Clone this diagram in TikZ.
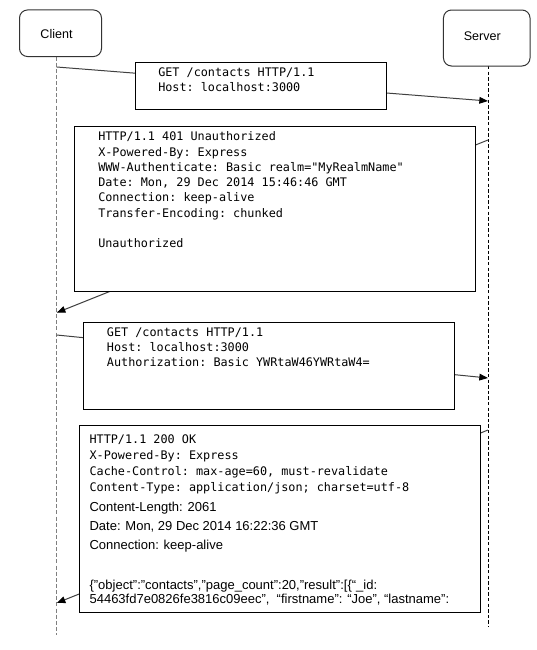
\documentclass[tikz,border=0pt]{standalone}
\usepackage{fontspec}
\setmainfont{Liberation Sans}
\setmonofont{DejaVu Sans Mono}
\usetikzlibrary{arrows.meta}
\definecolor{lifegray}{HTML}{7F7F7F}
\definecolor{arrowgray}{HTML}{404040}
\definecolor{actorgray}{HTML}{333333}
\tikzset{
  actor/.style={draw=actorgray, line width=0.75pt, rounded corners=6pt, fill=white, inner sep=0pt},
  msgbox/.style={draw=black, line width=0.75pt, fill=white, inner sep=0pt},
  mono/.style={anchor=base west, inner sep=0pt, font=\fontsize{8.85}{10}\ttfamily},
  sans/.style={anchor=base west, inner sep=0pt, font=\fontsize{9.75}{11}\selectfont},
  lbl/.style={anchor=base, inner sep=0pt, font=\fontsize{9.4}{11}\selectfont},
  clientlife/.style={draw=lifegray, line width=0.9pt, dash pattern=on 3pt off 1.6pt},
  serverlife/.style={draw=black, line width=0.75pt, dash pattern=on 2.6pt off 1.6pt},
  msg/.style={draw=arrowgray, line width=0.75pt, -{Triangle[length=6.5pt,width=5pt,fill=black,color=black]}}
}
\begin{document}
\begin{tikzpicture}[x=0.75pt,y=-0.75pt]
\useasboundingbox (0,0) rectangle (536,650);
% lifeline end points
\coordinate (ctop) at (56.7,56.5);
\coordinate (cbot) at (56.7,635);
\coordinate (stop) at (488,66);
\coordinate (sbot) at (488,627);
\draw[clientlife] (ctop) -- (cbot);
\draw[serverlife] (stop) -- (sbot);
% message anchor points
\coordinate (c1) at (56.7,67);
\coordinate (s1) at (488,101);
\coordinate (s2) at (488,140);
\coordinate (c2) at (56.7,312.7);
\coordinate (c3) at (56.7,335);
\coordinate (s3) at (488,378);
\coordinate (s4) at (488,430);
\coordinate (c4) at (56.7,603);
\draw[msg] (c1) -- (s1);
\draw[msg] (s2) -- (c2);
\draw[msg] (c3) -- (s3);
\draw[msg] (s4) -- (c4);
% actors
\node[actor, minimum width=61.5pt, minimum height=34.9pt] (client) at (60.5,33.25) {};
\node[actor, minimum width=64.9pt, minimum height=42pt] (server) at (486.75,38) {};
\node[lbl] (clientlbl) at (56.5,38.3) {Client};
\node[lbl] (serverlbl) at (482.3,40.7) {Server};
% message boxes
\node[msgbox, minimum width=188.25pt, minimum height=35.25pt] (box1) at (260.5,85.5) {};
\node[msgbox, minimum width=300.75pt, minimum height=123.75pt] (box2) at (275,209) {};
\node[msgbox, minimum width=278.6pt, minimum height=65.25pt] (box3) at (269.25,365.5) {};
\node[msgbox, minimum width=301.1pt, minimum height=140.25pt] (box4) at (280.25,518.5) {};
% box 1 text
\node[mono] (t1a) at (158,76) {GET /contacts HTTP/1.1};
\node[mono] (t1b) at (158,91) {Host: localhost:3000};
% box 2 text
\node[mono] (t2a) at (98,140.7) {HTTP/1.1 401 Unauthorized};
\node[mono] (t2b) at (98,156) {X-Powered-By: Express};
\node[mono] (t2c) at (98,171.3) {WWW-Authenticate: Basic realm="MyRealmName"};
\node[mono] (t2d) at (98,186.6) {Date: Mon, 29 Dec 2014 15:46:46 GMT};
\node[mono] (t2e) at (98,201.9) {Connection: keep-alive};
\node[mono] (t2f) at (98,217.2) {Transfer-Encoding: chunked};
\node[mono] (t2g) at (98,247.8) {Unauthorized};
% box 3 text
\node[mono] (t3a) at (106.7,336.7) {GET /contacts HTTP/1.1};
\node[mono] (t3b) at (106.7,351.7) {Host: localhost:3000};
\node[mono] (t3c) at (106.7,366.7) {Authorization: Basic YWRtaW46YWRtaW4=};
% box 4 text
\node[mono] (t4a) at (89.3,443.3) {HTTP/1.1 200 OK};
\node[mono] (t4b) at (89.3,459) {X-Powered-By: Express};
\node[mono] (t4c) at (89.3,475) {Cache-Control: max-age=60, must-revalidate};
\node[mono] (t4d) at (89.3,491) {Content-Type: application/json; charset=utf-8};
\node[sans] (t4e) at (89.3,511.7) {Content-Length: 2061};
\node[sans] (t4f) at (89.3,530.5) {Date: Mon, 29 Dec 2014 16:22:36 GMT};
\node[sans] (t4g) at (89.3,549.3) {Connection: keep-alive};
\node[sans] (t4h) at (89.3,589.3) {\{"object":"contacts","page\_count":20,"result":[\{“\_id:};
\node[sans] (t4i) at (89.3,603.5) {54463fd7e0826fe3816c09eec”,~~“firstname”: “Joe”, “lastname”:};
\end{tikzpicture}
\end{document}
